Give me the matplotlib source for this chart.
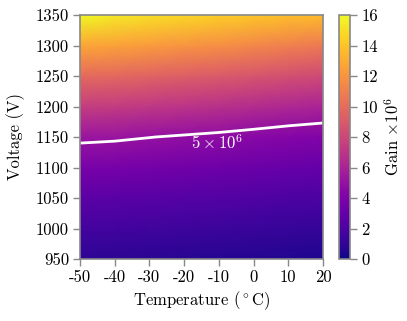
import numpy as np
import matplotlib
matplotlib.use("Agg")
import matplotlib.pyplot as plt

plt.rcParams['font.family'] = 'serif'
plt.rcParams['font.serif'] = ['cmr10', 'DejaVu Serif']
plt.rcParams['mathtext.fontset'] = 'cm'
plt.rcParams['axes.unicode_minus'] = False
plt.rcParams['axes.formatter.use_mathtext'] = True

temperatures = [-50, -40, -30, -20, -10, 0, 10, 20]
voltages = [950, 1000, 1050, 1100, 1150, 1200, 1250, 1300, 1350]
# gain (x10^6): rows = voltages, columns = temperatures
gain_m50 = [0.90, 1.70, 2.60, 3.80, 5.30, 7.50, 9.90, 12.70, 16.00]
gain_m40 = [0.85, 1.65, 2.55, 3.73, 5.20, 7.38, 9.76, 12.53, 15.40]
gain_m30 = [0.78, 1.57, 2.46, 3.61, 5.03, 7.18, 9.52, 12.25, 15.00]
gain_m20 = [0.72, 1.49, 2.37, 3.49, 4.86, 6.98, 9.28, 11.97, 14.70]
gain_m10 = [0.65, 1.41, 2.28, 3.37, 4.69, 6.78, 9.04, 11.69, 14.40]
gain_0 = [0.57, 1.32, 2.17, 3.22, 4.48, 6.54, 8.75, 11.36, 14.10]
gain_10 = [0.50, 1.22, 2.06, 3.08, 4.25, 6.30, 8.46, 11.02, 13.80]
gain_20 = [0.42, 1.13, 1.96, 2.94, 4.10, 6.06, 8.17, 10.68, 13.60]
contour_level = 5
xtick_labels = ['-50', '-40', '-30', '-20', '-10', '0', '10', '20']
ytick_vals = [950, 1000, 1050, 1100, 1150, 1200, 1250, 1300, 1350]
cbar_ticks = [0, 2, 4, 6, 8, 10, 12, 14, 16]

G = np.array([gain_m50, gain_m40, gain_m30, gain_m20, gain_m10,
              gain_0, gain_10, gain_20]).T
T, V = np.meshgrid(temperatures, voltages)

fig = plt.figure(figsize=(4.07, 3.21), dpi=100)
ax = fig.add_axes([80/407, 62/321, 243/407, 244/321])
cax = fig.add_axes([339/407, 62/321, 11/407, 244/321])

mesh = ax.pcolormesh(T, V, G, shading='gouraud', cmap='plasma', vmin=0, vmax=16)
ax.contour(T, V, G, levels=[contour_level], colors='white', linewidths=2)
ax.text(-10.5, 1140, r'$5\times10^6$', color='white', fontsize=12,
        ha='center', va='center')

ax.set_xlim(-50, 20)
ax.set_ylim(950, 1350)
ax.set_xticks(temperatures)
ax.set_xticklabels(xtick_labels)
ax.set_yticks(ytick_vals)
ax.set_yticklabels([str(v) for v in ytick_vals])
ax.set_xlabel(r'Temperature ($^\circ$C)', fontsize=12, labelpad=3)
ax.set_ylabel('Voltage (V)', fontsize=12, labelpad=8)
gray = '#888888'
for s in ax.spines.values():
    s.set_color(gray)
    s.set_linewidth(1.2)
ax.tick_params(colors=gray, labelcolor='black', labelsize=12, length=5, width=1, pad=3)

cb = fig.colorbar(mesh, cax=cax, ticks=cbar_ticks)
cb.outline.set_edgecolor(gray)
cb.outline.set_linewidth(1.2)
cb.ax.set_yticklabels([str(t) for t in cbar_ticks])
cb.ax.tick_params(colors=gray, labelcolor='black', labelsize=12, length=5, width=1, pad=3)
cb.set_label(r'Gain $\times10^6$', fontsize=12, labelpad=4)

fig.savefig('out.png', dpi=100)
